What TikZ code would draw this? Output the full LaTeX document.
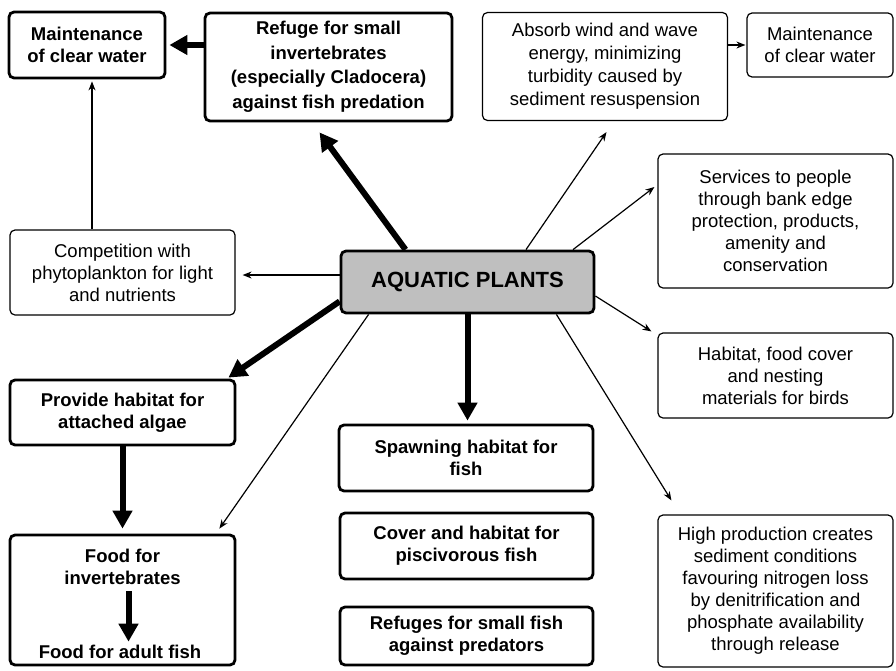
\documentclass[tikz,border=0pt]{standalone}
\usepackage{fontspec}
\setmainfont{Liberation Sans}
\usetikzlibrary{arrows.meta}
\definecolor{plantgrey}{RGB}{191,191,191}
\tikzset{
    boldbox/.style={draw, line width=2.8pt, rounded corners=5pt, align=center, inner sep=0pt,
        font=\bfseries\fontsize{18.5}{22}\selectfont},
    plainbox/.style={draw, line width=1.2pt, rounded corners=5pt, align=center, inner sep=0pt,
        font=\fontsize{18.5}{22}\selectfont},
    bigarrow/.style={line width=6pt, -{Triangle[length=18pt,width=19pt]}},
    smallarrow/.style={line width=1.2pt, -{Stealth[length=9pt,width=7pt]}},
}
\begin{document}
\begin{tikzpicture}[x=1pt, y=-1pt]
        \useasboundingbox (0,0) rectangle (896,670);

        \node[boldbox, minimum width=156pt, minimum height=66pt] (M) at (87,45) {Maintenance\\of clear water};
        \node[boldbox, minimum width=247pt, minimum height=108pt,
            font=\bfseries\fontsize{18.5}{24.5}\selectfont] (R) at (328.5,67) {Refuge for small\\invertebrates\\(especially Cladocera)\\against fish predation};
        \node[plainbox, minimum width=245pt, minimum height=108pt,
            font=\fontsize{18.5}{23}\selectfont] (W) at (605,66.5) {Absorb wind and wave\\energy, minimizing\\turbidity caused by\\sediment resuspension};
        \node[plainbox, minimum width=146pt, minimum height=64pt] (M2) at (820,45) {Maintenance\\of clear water};
        \node[plainbox, minimum width=235pt, minimum height=134pt] (S) at (775.5,221) {Services to people\\through bank edge\\protection, products,\\amenity and\\conservation};
        \node[plainbox, minimum width=225pt, minimum height=85pt] (C) at (122.5,272.5) {Competition with\\phytoplankton for light\\and nutrients};
        \node[boldbox, fill=plantgrey, minimum width=253pt, minimum height=62pt,
            font=\bfseries\fontsize{22}{26}\selectfont] (P) at (467.5,282) {AQUATIC PLANTS};
        \node[plainbox, minimum width=235pt, minimum height=85pt] (B) at (775.5,375.5) {Habitat, food cover\\and nesting\\materials for birds};
        \node[boldbox, minimum width=225pt, minimum height=65pt] (A) at (122.5,412.5) {Provide habitat for\\attached algae};
        \node[boldbox, minimum width=254pt, minimum height=66pt] (Sp) at (466,458) {Spawning habitat for\\fish};
        \node[boldbox, minimum width=253pt, minimum height=66pt] (Co) at (466.5,546) {Cover and habitat for\\piscivorous fish};
        \node[boldbox, minimum width=253pt, minimum height=58pt] (Rf) at (466.5,636) {Refuges for small fish\\against predators};
        \node[boldbox, minimum width=225pt, minimum height=130pt] (F) at (122.5,600) {};
        \node[align=center, font=\bfseries\fontsize{18.5}{22}\selectfont] (Fi) at (122.5,567) {Food for\\invertebrates};
        \node[font=\bfseries\fontsize{18.5}{22}\selectfont] (Fa) at (120,652) {Food for adult fish};
        \node[plainbox, minimum width=235pt, minimum height=152pt] (H) at (775.5,591) {High production creates\\sediment conditions\\favouring nitrogen loss\\by denitrification and\\phosphate availability\\through release};

        % heavy arrows
        \path[every edge/.append style={bigarrow}]
            (R.west |- M.east) edge [shorten >=3pt] (M.east)
            ([xshift=-62pt]P.north) edge ([xshift=-9pt,yshift=-10pt]R.south)
            ([yshift=13pt]P.south west) edge ([xshift=-8pt,yshift=1pt]A.north east)
            (P.south) edge [shorten >=3pt] (P.south |- Sp.north)
            (A) edge [shorten >=5pt] (F)
            ([xshift=6pt]Fi.south) edge [shorten <=3pt] ([xshift=6pt]Fi.south |- Fa.north)
        ;
        % light arrows
        \path[every edge/.append style={smallarrow}]
            ([xshift=5pt]M.south |- C.north) edge [shorten >=2pt] ([xshift=5pt]M.south)
            ([xshift=58.5pt]P.north) edge ([xshift=1.5pt,yshift=-11pt]W.south)
            ([xshift=105.5pt]P.north) edge ([xshift=-3pt,yshift=34pt]S.west)
            ([yshift=7pt]P.west) edge ([xshift=7pt,yshift=-2.5pt]C.east)
            ([yshift=-14pt]P.east) edge ([xshift=-6pt,yshift=1pt]B.north west)
            ([xshift=29pt]P.south west) edge ([xshift=-17pt,yshift=5pt]F.north east)
            ([xshift=-39pt]P.south east) edge ([xshift=14pt,yshift=14pt]H.north west)
            (W.east |- M2.west) edge [shorten >=1pt] (M2.west)
        ;
    \end{tikzpicture}
\end{document}
